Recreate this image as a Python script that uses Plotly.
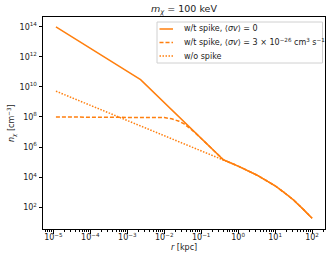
import plotly.graph_objects as go

# Data (log10 values)
r_solid = [-4.93, -2.64, -0.40, 0.0, 0.5, 1.0, 1.25, 1.5, 1.75, 2.0]
n_solid = [14.0, 10.49, 5.15, 4.73, 4.14, 3.42, 2.97, 2.47, 1.88, 1.26]

r_dash = [-4.93, -3.0, -2.4, -2.2, -2.0, -1.8, -1.6, -1.45, -1.3, -1.2, -1.0, -0.8, -0.6, -0.4,
          0.0, 0.5, 1.0, 1.25, 1.5, 1.75, 2.0]
n_dash = [8.0, 8.0, 8.0, 7.99, 7.96, 7.88, 7.72, 7.52, 7.25, 7.03, 6.57, 6.10, 5.62, 5.15,
          4.73, 4.14, 3.42, 2.97, 2.47, 1.88, 1.26]

r_dot = [-4.93, -0.40, 0.0, 0.5, 1.0, 1.25, 1.5, 1.75, 2.0]
n_dot = [9.72, 5.15, 4.73, 4.14, 3.42, 2.97, 2.47, 1.88, 1.26]

x_ticks = [-5, -4, -3, -2, -1, 0, 1, 2]
y_ticks = [2, 4, 6, 8, 10, 12, 14]

labels = [
    "w/t spike, ⟨<i>σv</i>⟩ = 0",
    "w/t spike, ⟨<i>σv</i>⟩ = 3 × 10<sup>−26</sup> cm<sup>3</sup> s<sup>−1</sup>",
    "w/o spike",
]
dashes = ["solid", "4px,2px", "1.5px,1.5px"]

def sup(k):
    s = str(k).replace("-", "−")
    return f"10<sup>{s}</sup>"

W, H = 332, 261
L, R, T, B = 43, 325, 17, 229
pw, ph = R - L, B - T

def px(p):
    return (p - L) / pw

def py(q):
    return 1 - (q - T) / ph

color = "#ff7f0e"
fig = go.Figure()
for rr, nn, dash, lab in [(r_solid, n_solid, dashes[0], labels[0]),
                          (r_dash, n_dash, dashes[1], labels[1]),
                          (r_dot, n_dot, dashes[2], labels[2])]:
    fig.add_trace(go.Scatter(
        x=[10 ** v for v in rr], y=[10 ** v for v in nn], mode="lines", name=lab,
        line=dict(color=color, width=1.5, dash=dash), showlegend=False,
    ))

minor_x = [m * 10 ** k for k in range(-6, 3) for m in range(2, 10)]

# manual legend
shapes = [dict(type="rect", xref="paper", yref="paper", x0=px(157), x1=px(322.5),
               y0=py(63), y1=py(22), line=dict(color="#d0d0d0", width=1),
               fillcolor="rgba(255,255,255,0.8)", layer="above")]
annotations = []
rows = [29, 42.5, 56]
for i, (lab, dash) in enumerate(zip(labels, dashes)):
    shapes.append(dict(type="line", xref="paper", yref="paper", x0=px(159.5), x1=px(173),
                       y0=py(rows[i]), y1=py(rows[i]), line=dict(color=color, width=1.5, dash=dash),
                       layer="above"))
    annotations.append(dict(text=lab, xref="paper", yref="paper", x=px(181.5), y=py(rows[i]),
                            xanchor="left", yanchor="middle", showarrow=False,
                            font=dict(size=8)))

annotations.append(dict(text="<i>r</i> [kpc]", xref="paper", yref="paper", x=0.5, y=py(247),
                        xanchor="center", yanchor="middle", showarrow=False, font=dict(size=8)))
annotations.append(dict(text="<i>n<sub>χ</sub></i> [cm<sup>−3</sup>]", xref="paper", yref="paper",
                        x=px(12), y=0.5, xanchor="center", yanchor="middle", textangle=-90,
                        showarrow=False, font=dict(size=8)))

fig.update_layout(
    width=W, height=H,
    margin=dict(l=L, r=W - R, t=T, b=H - B, autoexpand=False),
    paper_bgcolor="white", plot_bgcolor="white",
    font=dict(family="DejaVu Sans", size=8, color="#222"),
    title=dict(text="<i>m<sub>χ</sub></i> = 100 keV", x=(L + R) / 2 / W, xanchor="center",
               y=1 - 9 / H, yanchor="middle", font=dict(size=9.5)),
    showlegend=False,
    shapes=shapes, annotations=annotations,
    xaxis=dict(type="log", range=[-5.28, 2.35], tickvals=[10 ** k for k in x_ticks],
               ticktext=[sup(k) for k in x_ticks], ticks="outside", ticklen=3.5,
               tickcolor="black", automargin=False, ticklabelstandoff=-3,
               showline=True, linecolor="black", linewidth=1, mirror=True, showgrid=False,
               zeroline=False,
               minor=dict(tickvals=minor_x, ticks="outside", ticklen=2, tickcolor="black")),
    yaxis=dict(type="log", range=[0.54, 14.66], tickvals=[10 ** k for k in y_ticks],
               ticktext=[sup(k) for k in y_ticks], ticks="outside", ticklen=3.5,
               tickcolor="black", automargin=False,
               showline=True, linecolor="black", linewidth=1, mirror=True, showgrid=False,
               zeroline=False),
)

fig.write_html("out.html", config={"displayModeBar": False},
               post_script="document.body.style.margin='0';")
